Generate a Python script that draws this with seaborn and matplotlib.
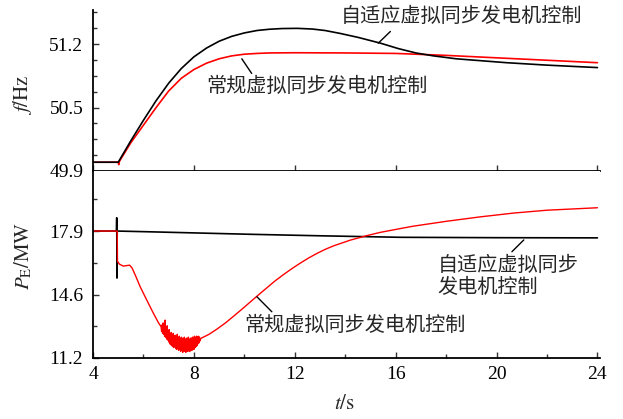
import numpy as np
import pandas as pd
import matplotlib
matplotlib.use('Agg')
import matplotlib.pyplot as plt
import seaborn as sns
from matplotlib.ticker import AutoMinorLocator

# frequency, adaptive VSG control (black)
t_f_adapt = [4.0, 5.0, 5.5, 6.0, 6.5, 7.0, 7.5, 8.0, 8.5, 9.0, 9.5, 10.0, 10.5, 11.0, 11.5,
             12.1, 12.7, 13.2, 13.8, 14.5, 15.4, 16.1, 16.8, 17.5, 18.4, 19.4, 20.4, 22.0, 24.0]
f_adapt = [49.99, 49.99, 50.21, 50.42, 50.62, 50.80, 50.95, 51.07, 51.16, 51.23, 51.28, 51.315,
           51.34, 51.353, 51.36, 51.362, 51.355, 51.34, 51.31, 51.27, 51.21, 51.155, 51.11,
           51.08, 51.05, 51.03, 51.01, 50.985, 50.96]

# frequency, conventional VSG control (red)
t_f_conv = [4.0, 5.0, 5.02, 5.05, 5.5, 6.0, 6.5, 7.0, 7.5, 8.0, 8.5, 9.0, 9.5, 10.0, 10.5,
            11.0, 12.0, 14.0, 16.0, 18.0, 20.0, 22.0, 24.0]
f_conv = [49.99, 49.99, 49.965, 50.0, 50.19, 50.37, 50.55, 50.72, 50.85, 50.94, 51.005, 51.05,
          51.08, 51.097, 51.105, 51.11, 51.112, 51.11, 51.105, 51.085, 51.06, 51.035, 51.01]

# power, adaptive VSG control (black)
t_p_adapt = [4.0, 4.93, 4.94, 4.95, 4.96, 6.26, 10.2, 13.0, 16.2, 20.0, 24.0]
p_adapt = [17.9, 17.9, 18.6, 15.42, 17.9, 17.86, 17.73, 17.65, 17.57, 17.55, 17.54]

# power, conventional VSG control (red): drop, noisy trough, recovery
t_p_drop = [4.0, 4.96, 4.97, 5.05, 5.2, 5.45, 5.55, 5.7, 5.87, 6.13, 6.39, 6.6]
p_drop = [17.9, 17.9, 16.3, 16.15, 16.05, 16.1, 15.95, 15.5, 14.96, 14.26, 13.57, 13.05]

t_p_noise = [6.70, 6.72, 6.74, 6.76, 6.78, 6.80, 6.82, 6.84, 6.86, 6.88, 6.90, 6.92, 6.94,
             6.96, 6.98, 7.00, 7.02, 7.04, 7.06, 7.08, 7.10, 7.12, 7.14, 7.16, 7.18, 7.20,
             7.22, 7.24, 7.26, 7.28, 7.30, 7.32, 7.34, 7.36, 7.38, 7.40, 7.42, 7.44, 7.46,
             7.48, 7.50, 7.52, 7.54, 7.56, 7.58, 7.60, 7.62, 7.64, 7.66, 7.68, 7.70, 7.72,
             7.74, 7.76, 7.78, 7.80, 7.82, 7.84, 7.86, 7.88, 7.90, 7.92, 7.94, 7.96, 7.98,
             8.00, 8.02, 8.04, 8.06, 8.08, 8.10, 8.12, 8.14, 8.16, 8.18, 8.20, 8.22, 8.24, 8.26]
p_noise = [12.85, 12.60, 12.95, 12.50, 13.05, 12.45, 12.80, 12.35, 13.20, 12.30, 12.75, 12.20,
           12.90, 12.15, 12.60, 12.05, 12.70, 11.95, 12.45, 11.90, 12.55, 11.85, 12.40, 11.80,
           12.50, 11.75, 12.35, 11.80, 12.40, 11.70, 12.30, 11.65, 12.45, 11.70, 12.25, 11.60,
           12.35, 11.65, 12.20, 11.55, 12.30, 11.60, 12.25, 11.50, 12.20, 11.60, 12.30, 11.55,
           12.15, 11.50, 12.25, 11.60, 12.20, 11.55, 12.30, 11.60, 12.15, 11.55, 12.25, 11.65,
           12.20, 11.60, 12.30, 11.70, 12.25, 11.65, 12.35, 11.75, 12.25, 11.80, 12.35, 11.85,
           12.30, 11.95, 12.35, 12.00, 12.30, 12.10, 12.20]

t_p_rise = [8.3, 8.6, 8.91, 9.25, 9.57, 9.9, 10.23, 10.55, 10.89, 11.2, 11.55, 11.9, 12.21,
            12.55, 12.88, 13.2, 13.54, 14.2, 14.86, 15.39, 16.18, 16.71, 18.04, 19.36, 20.68,
            22.0, 24.0]
p_rise = [12.25, 12.45, 12.72, 13.05, 13.4, 13.77, 14.15, 14.52, 14.9, 15.25, 15.6, 15.93,
          16.2, 16.48, 16.72, 16.93, 17.12, 17.42, 17.66, 17.83, 18.03, 18.16, 18.42, 18.65,
          18.85, 19.0, 19.13]

f_ticks = [49.9, 50.55, 51.2]
f_labels = ['49.9', '50.5', '51.2']
p_ticks = [11.2, 14.55, 17.9]
p_labels = ['11.2', '14.6', '17.9']
t_ticks = [4, 8, 12, 16, 20, 24]

lbl_adapt = '自适应虚拟同步发电机控制'
lbl_conv = '常规虚拟同步发电机控制'

sns.set_style('ticks')
plt.rcParams['font.family'] = ['Liberation Serif', 'Noto Sans CJK SC']
plt.rcParams['mathtext.fontset'] = 'stix'
plt.rcParams['axes.linewidth'] = 1.3
plt.rcParams['axes.edgecolor'] = 'black'

fig = plt.figure(figsize=(6.23, 4.19), dpi=100)
ax1 = fig.add_axes([0.1493, 0.5919, 0.8137, 0.3842])
ax2 = fig.add_axes([0.1493, 0.1456, 0.8137, 0.4463], sharex=ax1)

t_p_conv = t_p_drop + t_p_noise + t_p_rise
p_conv = p_drop + p_noise + p_rise

sns.lineplot(x=t_f_conv, y=f_conv, ax=ax1, color='#ff0000', lw=1.2, estimator=None, sort=False)
sns.lineplot(x=t_f_adapt, y=f_adapt, ax=ax1, color='black', lw=1.2, estimator=None, sort=False)
sns.lineplot(x=t_p_adapt, y=p_adapt, ax=ax2, color='black', lw=1.2, estimator=None, sort=False)
sns.lineplot(x=t_p_conv, y=p_conv, ax=ax2, color='#ff0000', lw=1.0, estimator=None, sort=False)

ax1.set_xlim(4, 24.1)
ax1.set_ylim(49.9, 51.55)
ax2.set_ylim(11.2, 21.07)

ax1.set_yticks(f_ticks, labels=f_labels)
ax2.set_yticks(p_ticks, labels=p_labels)
ax2.set_xticks(t_ticks, labels=[str(v) for v in t_ticks])
ax1.yaxis.set_minor_locator(AutoMinorLocator(4))
ax2.yaxis.set_minor_locator(AutoMinorLocator(2))
ax2.xaxis.set_minor_locator(AutoMinorLocator(2))

for ax in (ax1, ax2):
    ax.spines['top'].set_visible(False)
    ax.spines['right'].set_visible(False)
    ax.tick_params(which='both', direction='in', labelsize=14, width=1.0, colors='#333333',
                   labelcolor='black')
    ax.tick_params(which='major', length=4)
    ax.tick_params(which='minor', length=3)
    ax.tick_params(axis='y', pad=7)
    ax.tick_params(axis='x', pad=6)
    ax.set_xlabel('')
ax1.tick_params(axis='x', labelbottom=False)
ax1.tick_params(axis='x', which='minor', length=0)

ax1.set_ylabel(r'$f/\mathrm{Hz}$', fontsize=15)
ax2.set_ylabel(r'$P_\mathrm{E}/\mathrm{MW}$', fontsize=15)
ax2.set_xlabel(r'$t/\mathrm{s}$', fontsize=15)
ax1.yaxis.set_label_coords(-0.116, 0.472)
ax2.yaxis.set_label_coords(-0.116, 0.545)
ax2.xaxis.set_label_coords(0.497, -0.2)

ann = dict(arrowstyle='-', color='black', lw=1.0, shrinkA=0, shrinkB=0)
fs = 14.5
ax1.text(18.6, 51.47, lbl_adapt, ha='center', va='center', fontsize=fs)
ax1.annotate('', xy=(15.31, 51.21), xytext=(15.79, 51.33), arrowprops=ann)
ax1.text(12.87, 50.76, lbl_conv, ha='center', va='center', fontsize=fs)
ax1.annotate('', xy=(10.29, 50.90), xytext=(9.90, 51.05), arrowprops=ann)

ax2.text(14.4, 12.85, lbl_conv, ha='center', va='center', fontsize=fs)
ax2.annotate('', xy=(11.09, 13.64), xytext=(10.50, 14.43), arrowprops=ann)
ax2.text(17.65, 16.02, lbl_adapt[:7], ha='left', va='center', fontsize=fs)
ax2.text(17.65, 14.89, lbl_adapt[7:], ha='left', va='center', fontsize=fs)
ax2.annotate('', xy=(20.61, 16.81), xytext=(21.08, 17.43), arrowprops=ann)

fig.savefig('out.png', dpi=100)
